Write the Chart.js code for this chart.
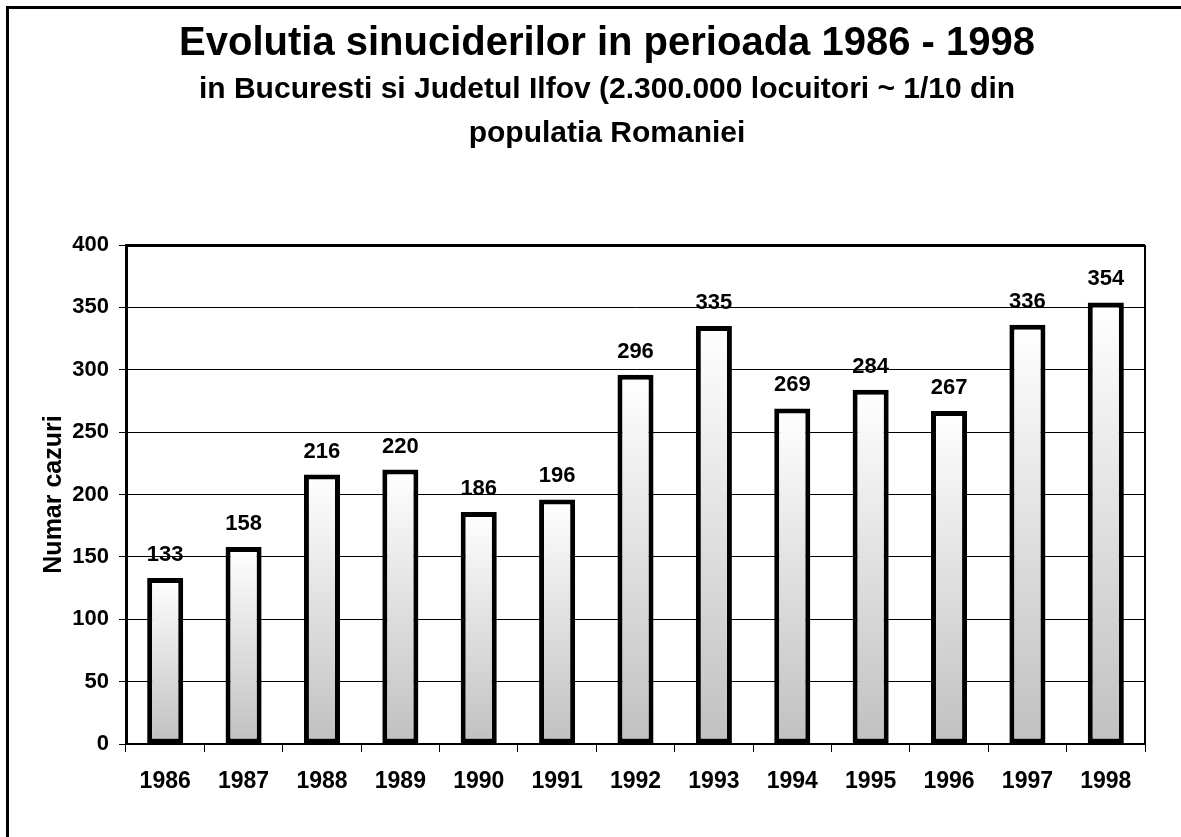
<!DOCTYPE html>
<html>
<head>
<meta charset="utf-8">
<title>Evolutia sinuciderilor 1986 - 1998</title>
<script src="https://cdn.jsdelivr.net/npm/chart.js@4/dist/chart.umd.min.js"></script>
<style>
    html, body { margin: 0; padding: 0; background: #fff; overflow: hidden; }
    #wrap { position: relative; width: 1181px; height: 837px; }
    #frame {
        position: absolute; left: 6px; top: 6px; width: 2000px; height: 2000px;
        border-left: 3px solid #000; border-top: 3px solid #000; pointer-events: none;
    }
</style>
</head>
<body>
<div id="wrap">
    <canvas id="chart" width="1181" height="837"></canvas>
    <div id="frame"></div>
</div>
<script>
// date
const years = ['1986', '1987', '1988', '1989', '1990', '1991', '1992', '1993', '1994', '1995', '1996', '1997', '1998'];
const cases = [133, 158, 216, 220, 186, 196, 296, 335, 269, 284, 267, 336, 354];
const yTicks = [0, 50, 100, 150, 200, 250, 300, 350, 400];

const titleText = 'Evolutia sinuciderilor in perioada 1986 - 1998';
const subtitleLines = ['in Bucuresti si Judetul Ilfov (2.300.000 locuitori ~ 1/10 din', 'populatia Romaniei'];
const yAxisTitle = 'Numar cazuri';

const FONT = '"Liberation Sans", Arial, sans-serif';

// gradient alb sus -> gri jos pentru fiecare bara
function barGradient(ctx) {
    const chart = ctx.chart;
    const y = chart.scales.y;
    if (!chart.chartArea || !y) return '#c0c0c0';
    const top = y.getPixelForValue(ctx.raw);
    const bottom = y.getPixelForValue(0);
    const g = chart.ctx.createLinearGradient(0, top, 0, bottom);
    g.addColorStop(0, '#ffffff');
    g.addColorStop(1, '#c0c0c0');
    return g;
}

// titlul si subtitlul (centrate putin spre dreapta, ca in original)
const header = {
    id: 'header',
    afterDraw(chart) {
        const ctx = chart.ctx;
        const cx = 607;
        ctx.save();
        ctx.fillStyle = '#000';
        ctx.textAlign = 'center';
        ctx.textBaseline = 'alphabetic';
        ctx.font = 'bold 40px ' + FONT;
        ctx.fillText(titleText, cx, 55);
        ctx.font = 'bold 30px ' + FONT;
        subtitleLines.forEach((line, i) => ctx.fillText(line, cx, 98 + i * 44));
        ctx.restore();
    }
};

// etichete cu valori deasupra barelor
const valueLabels = {
    id: 'valueLabels',
    afterDatasetsDraw(chart) {
        const ctx = chart.ctx;
        const meta = chart.getDatasetMeta(0);
        ctx.save();
        ctx.font = 'bold 22px ' + FONT;
        ctx.fillStyle = '#000';
        ctx.textAlign = 'center';
        ctx.textBaseline = 'alphabetic';
        meta.data.forEach((bar, i) => {
            ctx.fillText(String(cases[i]), bar.x, bar.y - 17);
        });
        ctx.restore();
    }
};

// chenarul zonei de grafic (sus si dreapta)
const plotFrame = {
    id: 'plotFrame',
    afterDraw(chart) {
        const { left, right, top, bottom } = chart.chartArea;
        const ctx = chart.ctx;
        ctx.save();
        ctx.strokeStyle = '#000';
        ctx.lineWidth = 3;
        ctx.beginPath();
        ctx.moveTo(left, top + 0.5);
        ctx.lineTo(right, top + 0.5);
        ctx.stroke();
        ctx.lineWidth = 2;
        ctx.beginPath();
        ctx.moveTo(right, top);
        ctx.lineTo(right, bottom);
        ctx.stroke();
        ctx.restore();
    }
};

Chart.defaults.color = '#000';
Chart.defaults.font.family = FONT;

new Chart(document.getElementById('chart'), {
    type: 'bar',
    data: {
        labels: years,
        datasets: [{
            data: cases,
            backgroundColor: barGradient,
            borderColor: '#000',
            borderWidth: 5,
            borderSkipped: false,
            categoryPercentage: 1,
            barPercentage: 0.46
        }]
    },
    options: {
        responsive: false,
        animation: false,
        layout: { padding: { left: 0, right: 36, top: 245, bottom: 0 } },
        plugins: {
            legend: { display: false },
            tooltip: { enabled: false },
            title: { display: false }
        },
        scales: {
            x: {
                grid: {
                    offset: true,
                    drawOnChartArea: false,
                    drawTicks: true,
                    tickLength: 8,
                    color: '#000',
                    lineWidth: 1
                },
                border: { display: true, color: '#000', width: 2 },
                ticks: {
                    font: { size: 23, weight: 'bold' },
                    padding: 16,
                    maxRotation: 0
                },
                afterFit(scale) { scale.height = 93; }
            },
            y: {
                min: 0,
                max: 400,
                afterBuildTicks(scale) { scale.ticks = yTicks.map(v => ({ value: v })); },
                grid: {
                    color: '#000',
                    lineWidth: 1,
                    tickLength: 7
                },
                border: { display: true, color: '#000', width: 3 },
                ticks: {
                    font: { size: 22, weight: 'bold' },
                    padding: 10
                },
                title: {
                    display: true,
                    text: yAxisTitle,
                    font: { size: 25, weight: 'bold' },
                    padding: { top: 39, bottom: 0 }
                },
                afterFit(scale) { scale.width = 126; }
            }
        }
    },
    plugins: [header, valueLabels, plotFrame]
});
</script>
</body>
</html>
